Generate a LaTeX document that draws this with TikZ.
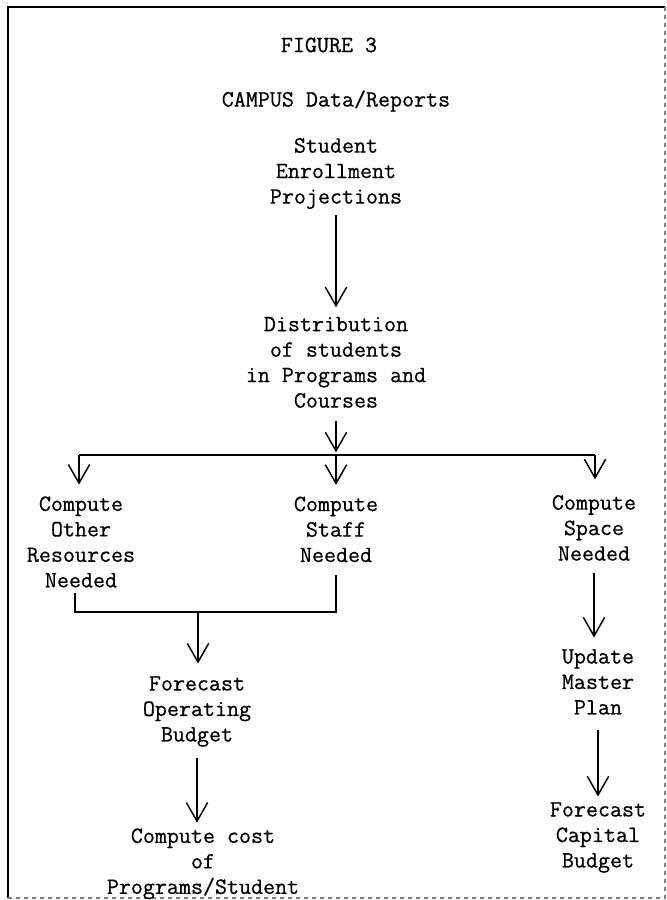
\documentclass[tikz,border=0pt]{standalone}
\usepackage{fontspec}
\newfontfamily\typew[FakeBold=0.6]{Latin Modern Mono}
\usetikzlibrary{arrows.meta}
\begin{document}
\begin{tikzpicture}[x=0.75pt,y=-0.75pt,
  lbl/.style={align=center,font=\fontsize{17.5pt}{19.1pt}\selectfont\typew,inner sep=0pt,outer sep=0pt},
  conn/.style={line width=1.1pt},
  arr/.style={conn,-{Straight Barb[length=14pt,width=16pt,line width=1.1pt]}},
  frame/.style={line width=1.6pt},
  frameedge/.style={gray,line width=0.8pt,dashed}]
\useasboundingbox (0,0) rectangle (667,900);
% frame
\draw[frame] (665,7) -- (8,7) -- (8,898);
\draw[frameedge] (665,7) -- (665,898) -- (8,898);
% texts
\node[lbl] (fig)  at (329,45)    {FIGURE 3};
\node[lbl] (camp) at (336,101)   {CAMPUS Data/Reports};
\node[lbl] (stu)  at (336,173.5) {Student\\Enrollment\\Projections};
\node[lbl] (dist) at (336,362.4) {Distribution\\of students\\in Programs and\\Courses};
\node[lbl] (oth)  at (81,541.9)  {Compute\\Other\\Resources\\Needed};
\node[lbl] (stf)  at (336,529.4) {Compute\\Staff\\Needed};
\node[lbl] (spc)  at (594,527.9) {Compute\\Space\\Needed};
\node[lbl] (fop)  at (197,711.5) {Forecast\\Operating\\Budget};
\node[lbl] (upd)  at (598,681.9) {Update\\Master\\Plan};
\node[lbl] (ccp)  at (203,863.8) {Compute cost\\of\\Programs/Student};
\node[lbl] (fcb)  at (598,837.5) {Forecast\\Capital\\Budget};
% bus coordinates
\coordinate (bus)  at (336,455);
\coordinate (busL) at (79,455);
\coordinate (busR) at (595,455);
\coordinate (brk)  at (198,612);
% connectors
\draw[arr,shorten <=4.5pt,shorten >=7.3pt] (stu.south) -- (stu.south |- dist.north);
\draw[arr,shorten <=9.75pt,shorten >=2pt] (dist.south) -- (bus);
\draw[conn] (busL) -- (busR);
\draw[arr,shorten >=8.8pt] (bus) -- (bus |- stf.north);
\draw[arr,shorten >=8.8pt] (busL) -- (busL |- oth.north);
\draw[arr,shorten >=11.8pt] (busR) -- (busR |- spc.north);
\draw[conn] ([xshift=-4.5pt,yshift=-4.5pt]oth.south) |- (brk) -| ([yshift=-9.75pt]stf.south);
\draw[arr,shorten >=9.5pt] (brk) -- (brk |- fop.north);
\draw[arr,shorten <=8.1pt,shorten >=4.3pt] (fop.south) -- (fop.south |- ccp.north);
\draw[arr,shorten <=9pt,shorten >=8.8pt] (spc.south) -- (spc.south |- upd.north);
\draw[arr,shorten <=11.25pt,shorten >=4.3pt] (upd.south) -- (upd.south |- fcb.north);
\end{tikzpicture}
\end{document}
